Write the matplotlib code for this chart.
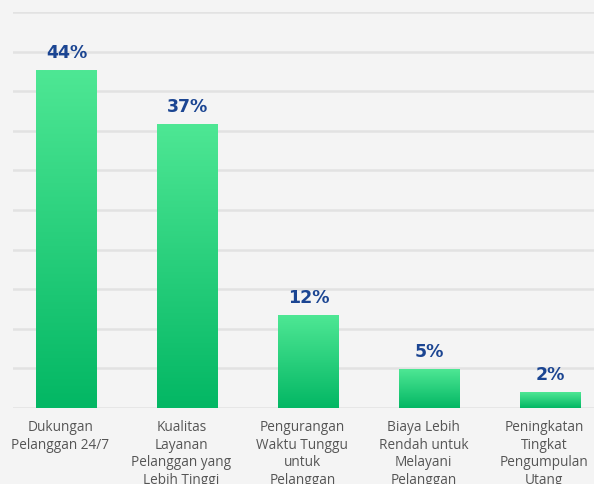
import numpy as np
import matplotlib.pyplot as plt
from matplotlib.colors import LinearSegmentedColormap

categories = ['Dukungan\nPelanggan 24/7',
              'Kualitas\nLayanan\nPelanggan yang\nLebih Tinggi',
              'Pengurangan\nWaktu Tunggu\nuntuk\nPelanggan',
              'Biaya Lebih\nRendah untuk\nMelayani\nPelanggan',
              'Peningkatan\nTingkat\nPengumpulan\nUtang']
values = [44, 37, 12, 5, 2]
labels = ['44%', '37%', '12%', '5%', '2%']

bg = '#f4f4f4'
fig = plt.figure(figsize=(5.94, 4.84), dpi=100, facecolor=bg)
ax = fig.add_axes([13/594, (484-408)/484, 581/594, 396/484])
ax.set_facecolor(bg)

ymax = 51.6
for y in np.linspace(0, ymax, 11):
    ax.axhline(y, color='#e2e2e2', lw=1.8, zorder=0)

cmap = LinearSegmentedColormap.from_list('g', ['#03b764', '#4ee794'])
grad = np.linspace(0, 1, 256).reshape(-1, 1)
width = 0.5
for i, (v, lab) in enumerate(zip(values, labels)):
    ax.imshow(grad, cmap=cmap, origin='lower', aspect='auto',
              extent=(i - width/2, i + width/2, 0, v), zorder=2)
    ax.text(i, v + 1.1, lab, ha='center', va='bottom', fontsize=12.5,
            fontweight='bold', color='#1b4592', family='DejaVu Sans', zorder=3)
    ax.text(i - 0.05, -1.6, categories[i], ha='center', va='top', fontsize=9.8,
            color='#555555', family='Open Sans', linespacing=1.22, clip_on=False)

ax.set_xlim(-0.442, 4.36)
ax.set_ylim(0, ymax)
ax.set_xticks([])
ax.set_yticks([])
for s in ax.spines.values():
    s.set_visible(False)

fig.savefig('out.png', dpi=100, facecolor=bg)
